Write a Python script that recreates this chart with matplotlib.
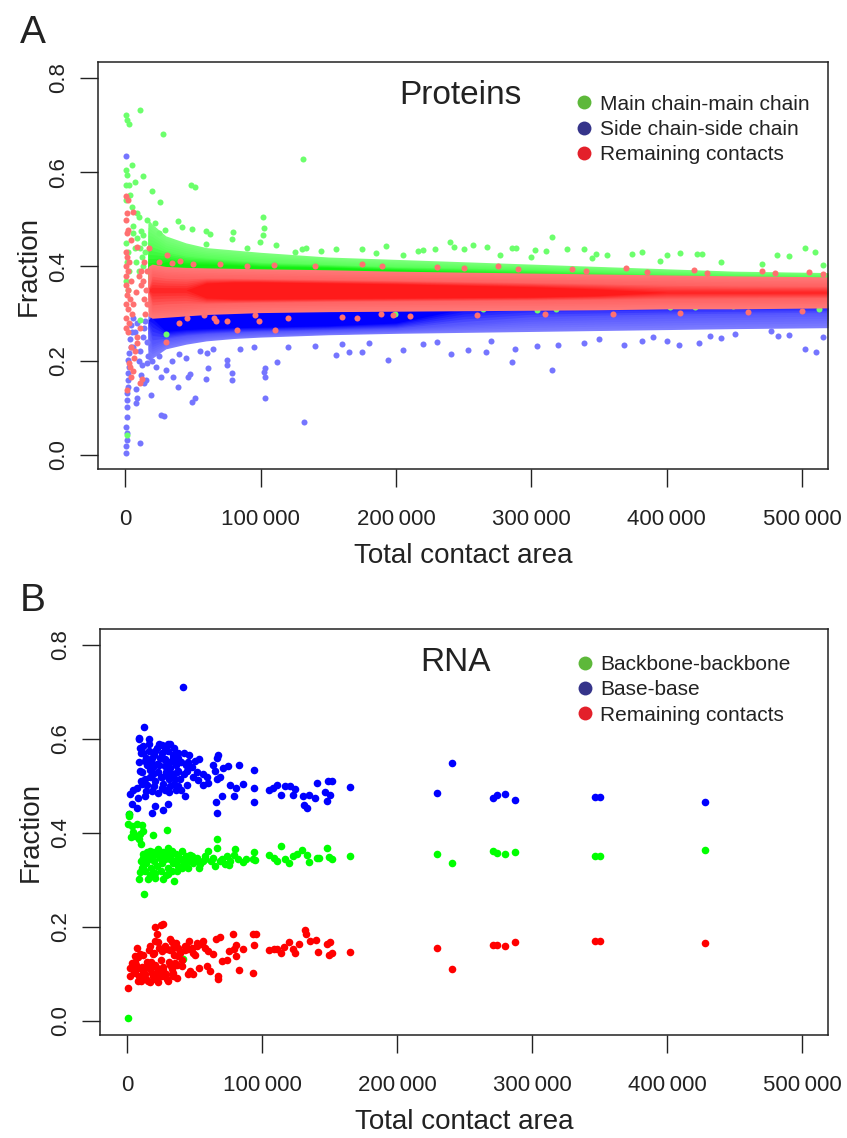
import matplotlib
matplotlib.use('Agg')
import matplotlib.pyplot as plt
from matplotlib.lines import Line2D
from matplotlib.colors import to_rgb
import numpy as np

plt.rcParams['font.family'] = ['Liberation Sans', 'DejaVu Sans']
text_col = '#222222'

# ---------------- Panel A: proteins (dense clouds -> density bands + sparse points)
band_x = [17000, 20000, 30000, 45000, 60000, 80000, 100000, 150000,
          200000, 250000, 300000, 350000, 400000, 450000, 519000]

# main chain - main chain (green): light edge, medium, dense core
mc_light_hi = [0.50, 0.49, 0.465, 0.45, 0.44, 0.435, 0.43, 0.42, 0.415, 0.41, 0.405, 0.40, 0.395, 0.39, 0.387]
mc_light_lo = [0.36, 0.35, 0.35, 0.35, 0.35, 0.35, 0.35, 0.35, 0.35, 0.35, 0.35, 0.35, 0.35, 0.35, 0.35]
mc_mid_hi = [0.45, 0.45, 0.435, 0.425, 0.42, 0.415, 0.41, 0.405, 0.40, 0.398, 0.395, 0.39, 0.385, 0.382, 0.38]
mc_mid_lo = [0.37, 0.36, 0.36, 0.36, 0.36, 0.36, 0.36, 0.36, 0.36, 0.36, 0.36, 0.36, 0.36, 0.36, 0.36]
mc_core_hi = [0.40, 0.40, 0.41, 0.405, 0.405, 0.403, 0.40, 0.398, 0.393, 0.388, 0.383, 0.378, 0.372, 0.37, 0.368]
mc_core_lo = [0.40, 0.37, 0.365, 0.365, 0.365, 0.365, 0.365, 0.365, 0.365, 0.365, 0.365, 0.365, 0.365, 0.365, 0.365]

# side chain - side chain (blue)
sc_light_hi = [0.30, 0.31, 0.32, 0.32, 0.32, 0.32, 0.32, 0.32, 0.32, 0.32, 0.32, 0.32, 0.32, 0.32, 0.32]
sc_light_lo = [0.20, 0.205, 0.225, 0.235, 0.242, 0.247, 0.25, 0.255, 0.258, 0.26, 0.262, 0.264, 0.266, 0.268, 0.27]
sc_mid_hi = [0.27, 0.31, 0.32, 0.32, 0.32, 0.32, 0.32, 0.32, 0.32, 0.32, 0.32, 0.32, 0.32, 0.32, 0.32]
sc_mid_lo = [0.27, 0.235, 0.245, 0.252, 0.256, 0.259, 0.261, 0.264, 0.267, 0.278, 0.288, 0.292, 0.295, 0.297, 0.30]
sc_core_hi = [0.29, 0.29, 0.32, 0.32, 0.32, 0.32, 0.32, 0.32, 0.32, 0.32, 0.32, 0.32, 0.32, 0.32, 0.32]
sc_core_lo = [0.29, 0.29, 0.262, 0.266, 0.268, 0.27, 0.271, 0.274, 0.28, 0.31, 0.32, 0.32, 0.32, 0.32, 0.32]

# remaining contacts (red)
rc_light_hi = [0.40, 0.405, 0.40, 0.398, 0.397, 0.396, 0.395, 0.393, 0.39, 0.388, 0.386, 0.384, 0.382, 0.38, 0.378]
rc_light_lo = [0.295, 0.29, 0.292, 0.295, 0.298, 0.30, 0.302, 0.304, 0.305, 0.306, 0.307, 0.308, 0.31, 0.31, 0.312]
rc_mid_hi = [0.35, 0.385, 0.38, 0.378, 0.377, 0.376, 0.375, 0.373, 0.371, 0.369, 0.367, 0.365, 0.363, 0.361, 0.36]
rc_mid_lo = [0.35, 0.312, 0.315, 0.317, 0.32, 0.322, 0.323, 0.325, 0.326, 0.327, 0.328, 0.329, 0.33, 0.331, 0.332]
rc_core_hi = [0.35, 0.35, 0.35, 0.35, 0.365, 0.367, 0.367, 0.365, 0.363, 0.36, 0.357, 0.352, 0.345, 0.345, 0.345]
rc_core_lo = [0.35, 0.35, 0.35, 0.35, 0.333, 0.331, 0.331, 0.332, 0.333, 0.334, 0.335, 0.338, 0.345, 0.345, 0.345]

# sparse proteins points
mc_pts_x = [700, 1500, 3200, 11100, 28300, 131000, 800, 1200, 900, 4900, 13000, 3000, 7400, 19700,
            25900, 48700, 51700, 3700, 600, 5000, 8600, 10000, 16000, 22000, 29500, 25000, 6000, 5500,
            13500, 39400, 41800, 49300, 59600, 62800, 80000, 79000, 102000, 102700, 102000, 99700,
            111500, 125500, 130500, 133700, 155800, 174800, 193000, 216000, 315000, 240000, 257000,
            242500, 267000, 285600, 289000, 326000, 338500, 381600, 302800, 502000, 509600, 229000,
            220000, 410000, 422000, 426000, 481000, 490000, 400000, 374000, 356000, 348000, 311000,
            277000, 250000, 1000, 2000, 1500, 3000, 800, 2500, 1400, 30000, 10800, 22000, 318000,
            304000, 264000, 402000, 421000, 449000, 512000, 232000, 155600, 199000, 60000, 90000,
            145000, 185000, 205000, 300000, 345000, 395000, 440000, 470000, 515000,
            9000, 11000, 12500, 14000, 8000, 10000, 12000, 15000, 7000, 13000]
mc_pts_y = [0.721, 0.711, 0.702, 0.733, 0.682, 0.628, 0.604, 0.594, 0.573, 0.615, 0.592, 0.573, 0.58, 0.56,
            0.537, 0.573, 0.569, 0.551, 0.54, 0.527, 0.513, 0.506, 0.499, 0.492, 0.477, 0.471, 0.485, 0.47,
            0.467, 0.496, 0.484, 0.479, 0.476, 0.468, 0.474, 0.459, 0.505, 0.481, 0.467, 0.452,
            0.445, 0.431, 0.438, 0.44, 0.438, 0.437, 0.443, 0.433, 0.463, 0.452, 0.445,
            0.441, 0.441, 0.44, 0.44, 0.436, 0.436, 0.43, 0.434, 0.44, 0.43, 0.436,
            0.435, 0.429, 0.426, 0.427, 0.425, 0.422, 0.425, 0.426, 0.425, 0.427, 0.432,
            0.425, 0.437, 0.45, 0.43, 0.41, 0.39, 0.37, 0.35, 0.042, 0.256, 0.286, 0.30, 0.309,
            0.308, 0.309, 0.314, 0.314, 0.317, 0.309, 0.313, 0.312, 0.30, 0.447, 0.44,
            0.432, 0.428, 0.425, 0.42, 0.418, 0.412, 0.41, 0.406, 0.404,
            0.46, 0.44, 0.42, 0.45, 0.41, 0.39, 0.475, 0.43, 0.44, 0.40]

sc_pts_x = [700, 1000, 800, 1200, 1500, 1000, 1300, 1600, 1200, 1500, 2000, 1800, 2200, 3000, 2500,
            3200, 4500, 3800, 5000, 4200, 6000, 10800, 26500, 28800, 49200, 51600, 103000, 103000,
            103000, 102500, 132000, 39000, 78900, 78900, 59700, 61400, 35200, 19500, 14300, 8300,
            8600, 194000, 285500, 315500, 502000, 510000, 241000, 156000, 165000, 175000, 205000,
            220000, 253000, 266600, 288000, 304000, 320000, 339000, 368500, 382000, 400000, 409000,
            424000, 432000, 482000, 450000, 477000, 112000, 60700, 75300, 75300, 46800, 48000,
            23000, 30000, 26500, 16000, 15400, 20000, 25000, 35000, 40000, 45000, 55000, 65000,
            85000, 95000, 120000, 140000, 160000, 180000, 230000, 270000, 350000, 390000, 440000,
            490000, 515000, 10000, 12000, 17000, 8000, 6000, 13000, 7000, 9000,
            14000, 16000, 11000, 15000, 12500]
sc_pts_y = [0.635, 0.004, 0.018, 0.032, 0.046, 0.06, 0.081, 0.102, 0.117, 0.131, 0.145, 0.159, 0.173, 0.187, 0.202,
            0.216, 0.23, 0.245, 0.26, 0.275, 0.29, 0.025, 0.085, 0.083, 0.112, 0.121, 0.121, 0.166,
            0.184, 0.175, 0.069, 0.145, 0.173, 0.159, 0.16, 0.184, 0.166, 0.127, 0.152, 0.11,
            0.12, 0.201, 0.197, 0.18, 0.225, 0.219, 0.214, 0.212, 0.218, 0.219, 0.223,
            0.235, 0.222, 0.219, 0.224, 0.232, 0.234, 0.238, 0.234, 0.241, 0.241, 0.234,
            0.238, 0.252, 0.253, 0.256, 0.264, 0.198, 0.216, 0.201, 0.191, 0.166, 0.172,
            0.187, 0.18, 0.166, 0.194, 0.159, 0.2, 0.21, 0.2, 0.215, 0.205, 0.22, 0.225,
            0.225, 0.23, 0.228, 0.232, 0.235, 0.238, 0.24, 0.242, 0.245, 0.25, 0.248,
            0.255, 0.25, 0.2, 0.17, 0.21, 0.14, 0.23, 0.25, 0.26, 0.28,
            0.27, 0.24, 0.22, 0.285, 0.19]

rc_pts_x = [600, 1800, 6100, 1500, 900, 2000, 1200, 4000, 8600, 18000, 30800, 40600, 500, 1500, 3000,
            700, 2500, 1000, 4000, 600, 2200, 1300, 3500, 800, 2000, 5000, 1000, 3000, 9100, 9100,
            700, 1800, 2800, 3500, 5500, 4500, 10800, 12500, 1500, 30000, 65600, 67000, 82400,
            99000, 111000, 171000, 45700, 58000, 95600, 197600, 189000, 8000, 10000, 12000, 14000,
            6000, 15000, 11000, 7000, 6500, 4000, 50000, 90000, 140000, 175000, 230000, 275000,
            330000, 370000, 420000, 470000, 505000, 40000, 75000, 120000, 160000, 210000, 260000,
            310000, 360000, 410000, 460000, 500000,
            14000, 16000, 13000, 15500, 12000, 16500, 25000, 35000, 70000, 110000, 190000, 250000,
            290000, 340000, 385000, 430000, 480000, 515000]
rc_pts_y = [0.55, 0.54, 0.516, 0.513, 0.499, 0.477, 0.471, 0.456, 0.442, 0.44, 0.424, 0.411, 0.43, 0.42, 0.41,
            0.40, 0.39, 0.38, 0.37, 0.36, 0.35, 0.34, 0.33, 0.32, 0.31, 0.30, 0.29, 0.28, 0.25, 0.237,
            0.27, 0.26, 0.194, 0.187, 0.177, 0.166, 0.152, 0.16, 0.138, 0.24, 0.29, 0.285, 0.265,
            0.285, 0.265, 0.29, 0.29, 0.297, 0.297, 0.297, 0.30, 0.345, 0.38, 0.36, 0.33,
            0.32, 0.30, 0.27, 0.22, 0.205, 0.23, 0.405, 0.402, 0.40, 0.405, 0.398, 0.40,
            0.395, 0.397, 0.392, 0.39, 0.388, 0.28, 0.285, 0.29, 0.292, 0.295, 0.297,
            0.298, 0.30, 0.302, 0.303, 0.305,
            0.41, 0.39, 0.37, 0.35, 0.39, 0.32, 0.41, 0.408, 0.405, 0.404, 0.401, 0.396,
            0.394, 0.39, 0.389, 0.387, 0.386, 0.383]

# ---------------- Panel B: RNA
bb_x = [165000, 229600, 240700, 270900, 273800, 279500, 286900, 346400, 350400, 427600,
        1700, 1700, 1000, 3500, 7200, 10900, 4200, 6000, 9600, 12100, 19000, 29900, 2700, 10100, 9100,
        12100, 14600, 17000, 19500, 22000, 24500, 26900, 30600, 33100, 31900, 35600, 38000, 40500,
        44200, 46700, 49100, 51600, 54100, 57800, 60200, 63900, 66400, 66400, 68900, 65200, 72600,
        75800, 80000, 79300, 82200, 85700, 94000, 93000, 94700, 12100, 9600, 9100, 15800, 20700,
        26900, 30600, 35100, 36800, 45400, 53600, 12600,
        105400, 108900, 110900, 113900, 117100, 119600, 122700, 125700, 129400, 133100, 135100,
        140500, 142500, 148400, 149900, 151600,
        10000, 12000, 14000, 16000, 18000, 20000, 22000, 24000, 26000, 28000, 30000, 32000, 34000,
        36000, 38000, 40000, 42000, 44000, 13000, 17000, 21000, 25000, 29000, 33000, 19000, 23000,
        27000, 31000, 11000, 15000, 37000, 41000, 46000, 48000, 52000, 56000, 58000, 62000, 70000,
        74000, 76000, 88000, 1000, 41700]
bb_y = [0.351, 0.356, 0.337, 0.361, 0.357, 0.355, 0.360, 0.351, 0.351, 0.364,
        0.44, 0.435, 0.42, 0.415, 0.419, 0.417, 0.403, 0.394, 0.397, 0.404, 0.396, 0.406, 0.391, 0.376, 0.387,
        0.347, 0.354, 0.362, 0.351, 0.358, 0.347, 0.354, 0.369, 0.362, 0.344, 0.34, 0.351, 0.362,
        0.344, 0.354, 0.337, 0.347, 0.333, 0.344, 0.362, 0.347, 0.369, 0.387, 0.34, 0.33, 0.333,
        0.332, 0.365, 0.354, 0.344, 0.339, 0.36, 0.345, 0.342, 0.33, 0.316, 0.301, 0.301, 0.305,
        0.301, 0.312, 0.298, 0.319, 0.326, 0.326, 0.27,
        0.352, 0.347, 0.34, 0.372, 0.344, 0.337, 0.351, 0.355, 0.363, 0.353, 0.339,
        0.347, 0.347, 0.367, 0.348, 0.345,
        0.34, 0.355, 0.335, 0.345, 0.325, 0.34, 0.33, 0.355, 0.335, 0.345, 0.325, 0.35, 0.335,
        0.355, 0.33, 0.345, 0.335, 0.35, 0.32, 0.31, 0.315, 0.32, 0.31, 0.32, 0.36, 0.365,
        0.36, 0.355, 0.325, 0.36, 0.34, 0.325, 0.34, 0.35, 0.345, 0.34, 0.35, 0.34, 0.345,
        0.35, 0.34, 0.345, 0.007, 0.131]

base_x = [165000, 229600, 240700, 270900, 273800, 279500, 286900, 346400, 350400, 427600,
          41500, 12600, 9100, 9100, 16300, 26200, 31900, 35100, 9600, 12100, 20700, 18300, 24500,
          28100, 34300, 38000, 13300, 22000, 27900, 31900, 17000, 9600, 19500, 25700, 30600, 35600,
          38000, 46200, 45400, 50400, 53600, 44200, 49100, 52800, 56500, 60200, 59500, 44700, 67600,
          66900, 63900, 65200, 71100, 74800, 83200, 66400, 68900, 76300, 80700, 85700, 94000, 94000,
          79300, 70400, 66200, 66400, 94000,
          2200, 4700, 7200, 10900, 14500, 8400, 13300, 18300, 23200, 27900, 31400, 36500, 40300,
          43200, 3500, 7200, 20700, 26900, 30600, 18300, 1700,
          105400, 108400, 110900, 113900, 117100, 120800, 124500, 123200, 130100, 131100, 133100,
          135100, 139300, 141000, 149100, 151600, 146600, 150400, 148400,
          10000, 12000, 14000, 16000, 18000, 20000, 22000, 24000, 26000, 28000, 30000, 32000, 34000,
          36000, 38000, 11000, 13000, 15000, 17000, 19000, 21000, 23000, 25000, 27000, 29000, 31000,
          33000, 35000, 37000, 39000, 9000, 10000, 14000, 20000, 26000, 32000, 38000, 42000, 44000,
          48000, 52000, 56000, 40000, 42000, 24000, 16000, 30000, 36000, 28000]
base_y = [0.498, 0.485, 0.549, 0.475, 0.481, 0.482, 0.470, 0.477, 0.477, 0.465,
          0.711, 0.626, 0.603, 0.6, 0.59, 0.588, 0.59, 0.58, 0.58, 0.571, 0.574, 0.559, 0.56,
          0.557, 0.56, 0.559, 0.553, 0.546, 0.543, 0.539, 0.535, 0.532, 0.525, 0.518, 0.521, 0.514,
          0.532, 0.566, 0.55, 0.553, 0.558, 0.532, 0.518, 0.512, 0.503, 0.507, 0.52, 0.503, 0.565,
          0.56, 0.544, 0.532, 0.538, 0.543, 0.545, 0.514, 0.519, 0.502, 0.495, 0.504, 0.533, 0.496,
          0.479, 0.479, 0.465, 0.442, 0.466,
          0.482, 0.492, 0.496, 0.504, 0.501, 0.475, 0.479, 0.489, 0.486, 0.492, 0.487, 0.492, 0.492,
          0.479, 0.461, 0.454, 0.457, 0.448, 0.461, 0.443, 0.44,
          0.491, 0.496, 0.502, 0.481, 0.499, 0.499, 0.493, 0.481, 0.478, 0.459, 0.454,
          0.481, 0.475, 0.506, 0.51, 0.51, 0.487, 0.481, 0.469,
          0.57, 0.585, 0.56, 0.575, 0.55, 0.565, 0.58, 0.545, 0.57, 0.555, 0.575, 0.55, 0.565,
          0.545, 0.57, 0.53, 0.515, 0.545, 0.52, 0.54, 0.51, 0.53, 0.52, 0.505, 0.53, 0.515,
          0.525, 0.505, 0.53, 0.515, 0.55, 0.51, 0.49, 0.50, 0.495, 0.50, 0.50, 0.525, 0.545,
          0.54, 0.53, 0.525, 0.55, 0.57, 0.59, 0.60, 0.59, 0.555, 0.58]

rem_x = [165000, 229600, 240700, 270900, 273800, 279500, 286900, 346400, 350400, 427600,
         1000, 26900, 24900, 20700, 22000, 20700, 23200, 31900, 33100, 7200, 9600, 6000, 17000,
         19500, 25700, 29400, 34300, 38000, 42900, 45400, 49100, 51600, 55300, 57800, 60200, 63900,
         65900, 68900, 70100, 73800, 67700, 67700, 61500, 59500, 53600, 46700, 45400, 49100, 40500,
         75800, 80700, 79300, 80700, 85700, 78300, 93500, 95500, 94000, 83200, 93500,
         2200, 3500, 2200, 6000, 8400, 10900, 12100, 15800, 14600, 18300, 20700, 22000, 24500,
         26900, 29400, 31900, 34300, 36800, 35600, 38000, 8400, 23200, 17000,
         105400, 108900, 110900, 113900, 116400, 120100, 122700, 124500, 127000, 132000, 132800,
         135300, 140000, 141200, 148100, 150600, 149300, 151600,
         5000, 7000, 9000, 11000, 13000, 15000, 17000, 19000, 21000, 23000, 25000, 27000, 29000,
         31000, 33000, 35000, 37000, 39000, 41000, 43000, 8000, 12000, 16000, 20000, 24000, 28000,
         32000, 36000, 44000, 48000, 52000, 56000, 46000, 50000, 10000, 14000, 18000, 22000, 26000,
         30000, 34000, 6000, 4000]
rem_y = [0.147, 0.156, 0.111, 0.161, 0.161, 0.160, 0.167, 0.169, 0.169, 0.166,
         0.069, 0.206, 0.205, 0.2, 0.184, 0.17, 0.167, 0.174, 0.167, 0.156, 0.142, 0.138, 0.159,
         0.142, 0.149, 0.152, 0.156, 0.156, 0.159, 0.152, 0.145, 0.159, 0.164, 0.156, 0.149, 0.142,
         0.174, 0.179, 0.128, 0.129, 0.096, 0.089, 0.106, 0.117, 0.113, 0.106, 0.099, 0.099, 0.117,
         0.149, 0.161, 0.152, 0.138, 0.154, 0.186, 0.186, 0.184, 0.161, 0.108, 0.103,
         0.113, 0.124, 0.096, 0.102, 0.113, 0.096, 0.106, 0.085, 0.117, 0.102, 0.089, 0.113, 0.096,
         0.109, 0.089, 0.12, 0.102, 0.092, 0.124, 0.138, 0.085, 0.082, 0.082,
         0.151, 0.152, 0.154, 0.144, 0.158, 0.167, 0.154, 0.145, 0.163, 0.193, 0.184,
         0.17, 0.172, 0.146, 0.163, 0.168, 0.141, 0.145,
         0.105, 0.12, 0.095, 0.115, 0.10, 0.125, 0.11, 0.095, 0.12, 0.105, 0.13, 0.115, 0.10,
         0.125, 0.11, 0.14, 0.12, 0.145, 0.13, 0.15, 0.135, 0.14, 0.15, 0.145, 0.155, 0.16,
         0.15, 0.165, 0.16, 0.155, 0.165, 0.17, 0.17, 0.14, 0.085, 0.09, 0.125, 0.09, 0.095,
         0.085, 0.095, 0.125, 0.115]

xticks = [0, 100000, 200000, 300000, 400000, 500000]
xtick_labels = ['0', '100\u2009000', '200\u2009000', '300\u2009000', '400\u2009000', '500\u2009000']
yticks = [0.0, 0.2, 0.4, 0.6, 0.8]
protein_labels = ['Main chain-main chain', 'Side chain-side chain', 'Remaining contacts']
rna_labels = ['Backbone-backbone', 'Base-base', 'Remaining contacts']
legend_cols = ['#5db83a', '#35348a', '#e3202a']

fig = plt.figure(figsize=(8.47, 11.38), dpi=100)
axA = fig.add_axes([98 / 847, 1 - 469 / 1138, 730 / 847, 407 / 1138])
axB = fig.add_axes([100 / 847, 1 - 1035 / 1138, 728 / 847, 406 / 1138])


def bands(ax, tiers, cols, steps=6):
    # shade from the outer (sparse) envelope to the dense core, like density colouring
    for k in range(len(tiers) - 1):
        lo0, hi0 = np.array(tiers[k][0]), np.array(tiers[k][1])
        lo1, hi1 = np.array(tiers[k + 1][0]), np.array(tiers[k + 1][1])
        c0, c1 = np.array(to_rgb(cols[k])), np.array(to_rgb(cols[k + 1]))
        for t in np.linspace(0, 1, steps, endpoint=False):
            ax.fill_between(band_x, lo0 + t * (lo1 - lo0), hi0 + t * (hi1 - hi0),
                            color=c0 + t * (c1 - c0), lw=0)
    ax.fill_between(band_x, tiers[-1][0], tiers[-1][1], color=cols[-1], lw=0)


# blue first, then green, then red on top
bands(axA, [(sc_light_lo, sc_light_hi), (sc_mid_lo, sc_mid_hi), (sc_core_lo, sc_core_hi)],
      ['#7c7cff', '#5656ff', '#0000ff'])
axA.scatter(sc_pts_x, sc_pts_y, s=19, color='#7575ff', lw=0)
bands(axA, [(mc_light_lo, mc_light_hi), (mc_mid_lo, mc_mid_hi), (mc_core_lo, mc_core_hi)],
      ['#7cff7c', '#58ff58', '#10f010'])
axA.scatter(mc_pts_x, mc_pts_y, s=19, color='#6cff6c', lw=0)
bands(axA, [(rc_light_lo, rc_light_hi), (rc_mid_lo, rc_mid_hi), (rc_core_lo, rc_core_hi)],
      ['#ff7878', '#ff6262', '#ff1a1a'])
axA.scatter(rc_pts_x, rc_pts_y, s=19, color='#ff7070', lw=0)

axB.scatter(base_x, base_y, s=30, color='#0000ff', lw=0)
axB.scatter(bb_x, bb_y, s=30, color='#00ff00', lw=0)
axB.scatter(rem_x, rem_y, s=30, color='#ff0000', lw=0)

for ax, title, labels, tx, ly in [(axA, 'Proteins', protein_labels, 0.496, 0.940),
                                   (axB, 'RNA', rna_labels, 0.488, 0.956)]:
    ax.set_xlim(-20000, 519000)
    ax.set_ylim(-0.03, 0.834)
    ax.set_xticks(xticks)
    ax.set_xticklabels(xtick_labels)
    ax.set_yticks(yticks)
    ax.set_yticklabels(['0.0', '0.2', '0.4', '0.6', '0.8'])
    ax.tick_params(axis='both', direction='out', length=13, width=1.0, colors='#222222',
                   labelsize=16, labelcolor=text_col)
    ax.tick_params(axis='x', pad=16)
    ax.tick_params(axis='y', pad=8, labelrotation=90)
    for lab in ax.get_yticklabels():
        lab.set_va('center')
    for sp in ax.spines.values():
        sp.set_linewidth(1.1)
        sp.set_color('#222222')
    ax.set_xlabel('Total contact area', fontsize=20, color=text_col)
    ax.set_ylabel('Fraction', fontsize=20, color=text_col)
    ax.xaxis.set_label_coords(0.5, -0.182)
    ax.yaxis.set_label_coords(-0.077, 0.5)
    ax.text(tx, 0.917, title, transform=ax.transAxes, fontsize=24, color=text_col,
            ha='center', va='center')
    handles = [Line2D([], [], ls='none', marker='o', ms=10, mec='none', mfc=c) for c in legend_cols]
    ax.legend(handles, labels, loc='upper left', bbox_to_anchor=(0.646, ly), frameon=False,
              fontsize=15, handlelength=0.6, handletextpad=0.45, labelspacing=0.3,
              borderaxespad=0, labelcolor=text_col)

fig.text(20 / 847, 1 - 43 / 1138, 'A', fontsize=28, color=text_col)
fig.text(20 / 847, 1 - 611 / 1138, 'B', fontsize=28, color=text_col)

fig.savefig('out.png', dpi=100)
